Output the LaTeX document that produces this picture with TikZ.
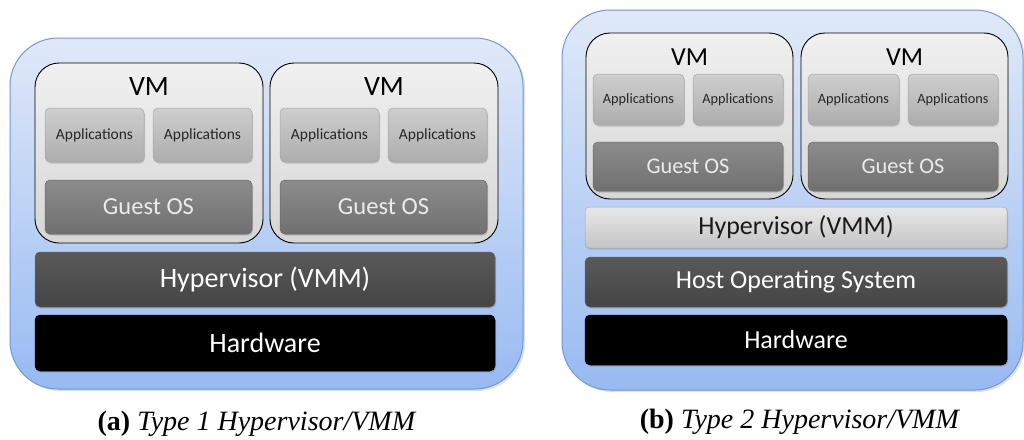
\documentclass[tikz,border=0pt]{standalone}
\usepackage{fontspec}
\setmainfont{Carlito}
\newfontfamily\capfont{Liberation Serif}
\usetikzlibrary{shadows}

\definecolor{paneltop}{HTML}{E0E9F8}
\definecolor{panelmid}{HTML}{BDD2F5}
\definecolor{panelbottom}{HTML}{98BAF2}
\definecolor{panelline}{HTML}{6F9AD2}
\definecolor{vmtop}{HTML}{F0F0F0}
\definecolor{vmbottom}{HTML}{D6D6D6}
\definecolor{apptop}{HTML}{CECECE}
\definecolor{appbottom}{HTML}{ADADAD}
\definecolor{guesttop}{HTML}{8C8C8C}
\definecolor{guestbottom}{HTML}{707070}
\definecolor{darktop}{HTML}{5A5A5A}
\definecolor{darkbottom}{HTML}{444444}
\definecolor{lighttop}{HTML}{E8E8E8}
\definecolor{lightbottom}{HTML}{C4C4C4}

\newcommand\hvbigstyle{\fontsize{28}{30}\selectfont}
\newcommand\hvmidstyle{\fontsize{24.5}{26}\selectfont}
\newcommand\hvappstyle{\fontsize{15.5}{17}\selectfont}
\newcommand\hvcapstyle{\capfont\fontsize{28}{30}\selectfont}

\tikzset{
  panel/.style={draw=panelline, line width=1pt, rounded corners=48pt,
    top color=paneltop, middle color=panelmid, bottom color=panelbottom,
    drop shadow={opacity=.25, shadow xshift=2pt, shadow yshift=-2pt}},
  vmbox/.style={draw=black, line width=.9pt, rounded corners=24pt,
    top color=vmtop, bottom color=vmbottom},
  vmlabel/.style={inner sep=0pt, text=black},
  appbox/.style={draw=gray!70, line width=.5pt, rounded corners=5pt,
    top color=apptop, bottom color=appbottom, text=black!85, inner sep=0pt,
    drop shadow={opacity=.35, shadow xshift=1pt, shadow yshift=-1.5pt}},
  guestbox/.style={draw=gray!80!black, line width=.5pt, rounded corners=5pt,
    top color=guesttop, bottom color=guestbottom, text=white!92!black, inner sep=0pt,
    drop shadow={opacity=.35, shadow xshift=1pt, shadow yshift=-1.5pt}},
  darklayer/.style={draw=black!60, line width=.5pt, rounded corners=5pt,
    top color=darktop, bottom color=darkbottom, text=white, inner sep=0pt,
    drop shadow={opacity=.35, shadow xshift=1pt, shadow yshift=-1.5pt}},
  lightlayer/.style={draw=gray!70, line width=.5pt, rounded corners=4pt,
    top color=lighttop, bottom color=lightbottom, text=black!90, inner sep=0pt,
    drop shadow={opacity=.35, shadow xshift=1pt, shadow yshift=-1.5pt}},
  hwlayer/.style={draw=black, line width=.5pt, rounded corners=5pt,
    fill=black, text=white, inner sep=0pt,
    drop shadow={opacity=.35, shadow xshift=1pt, shadow yshift=-1.5pt}},
  caption/.style={inner sep=0pt, text=black}
}

\begin{document}
\begin{tikzpicture}[x=1pt, y=-1pt]
  \useasboundingbox (0,0) rectangle (1024,439);

  % (a) type 1
  \node[panel, minimum width=513pt, minimum height=351pt] (panela) at (266.5,213.5) {};
  \foreach \n/\dx in {1/0, 2/235} {
    \node[vmbox, minimum width=228pt, minimum height=180pt] (vma\n) at (149+\dx,153) {};
    \node[vmlabel] (vmlbla\n) at (149+\dx,87) {\hvbigstyle VM};
    \node[appbox, minimum width=99pt, minimum height=54pt] (appa\n l) at (94.5+\dx,135) {\hvappstyle Applications};
    \node[appbox, minimum width=99pt, minimum height=54pt] (appa\n r) at (202.5+\dx,135) {\hvappstyle Applications};
    \node[guestbox, minimum width=207pt, minimum height=54pt] (guesta\n) at (148.5+\dx,207) {\hvmidstyle Guest OS};
  }
  \node[darklayer, minimum width=460pt, minimum height=55pt] (hypa) at (265,279.5) {\hvbigstyle Hypervisor (VMM)};
  \node[hwlayer, minimum width=460pt, minimum height=56pt] (hwa) at (265,343) {\hvbigstyle Hardware};
  \node[caption] (capa) at (257,424) {\hvcapstyle\textbf{(a)} \textit{Type 1 Hypervisor/VMM}};

  % (b) type 2
  \node[panel, minimum width=461pt, minimum height=380pt] (panelb) at (792.5,200) {};
  \foreach \n/\dx in {1/0, 2/215} {
    \node[vmbox, minimum width=207pt, minimum height=166pt] (vmb\n) at (689.5+\dx,116) {};
    \node[vmlabel] (vmlblb\n) at (689.5+\dx,57) {\fontsize{26}{28}\selectfont VM};
    \node[appbox, minimum width=91pt, minimum height=51pt] (appb\n l) at (638.5+\dx,99.5) {\fontsize{14.3}{16}\selectfont Applications};
    \node[appbox, minimum width=90pt, minimum height=51pt] (appb\n r) at (738+\dx,99.5) {\fontsize{14.3}{16}\selectfont Applications};
    \node[guestbox, minimum width=190pt, minimum height=49pt] (guestb\n) at (688+\dx,166.5) {\fontsize{22.3}{24}\selectfont Guest OS};
  }
  \node[lightlayer, minimum width=422pt, minimum height=41pt] (hypb) at (796,227.5) {\fontsize{26}{28}\selectfont Hypervisor (VMM)};
  \node[darklayer, minimum width=422pt, minimum height=50pt] (hostb) at (796,282) {\fontsize{26}{28}\selectfont Host Operating System};
  \node[hwlayer, minimum width=422pt, minimum height=50pt] (hwb) at (796,340) {\fontsize{26}{28}\selectfont Hardware};
  \node[caption] (capb) at (800,422) {\hvcapstyle\textbf{(b)} \textit{Type 2 Hypervisor/VMM}};
\end{tikzpicture}
\end{document}
